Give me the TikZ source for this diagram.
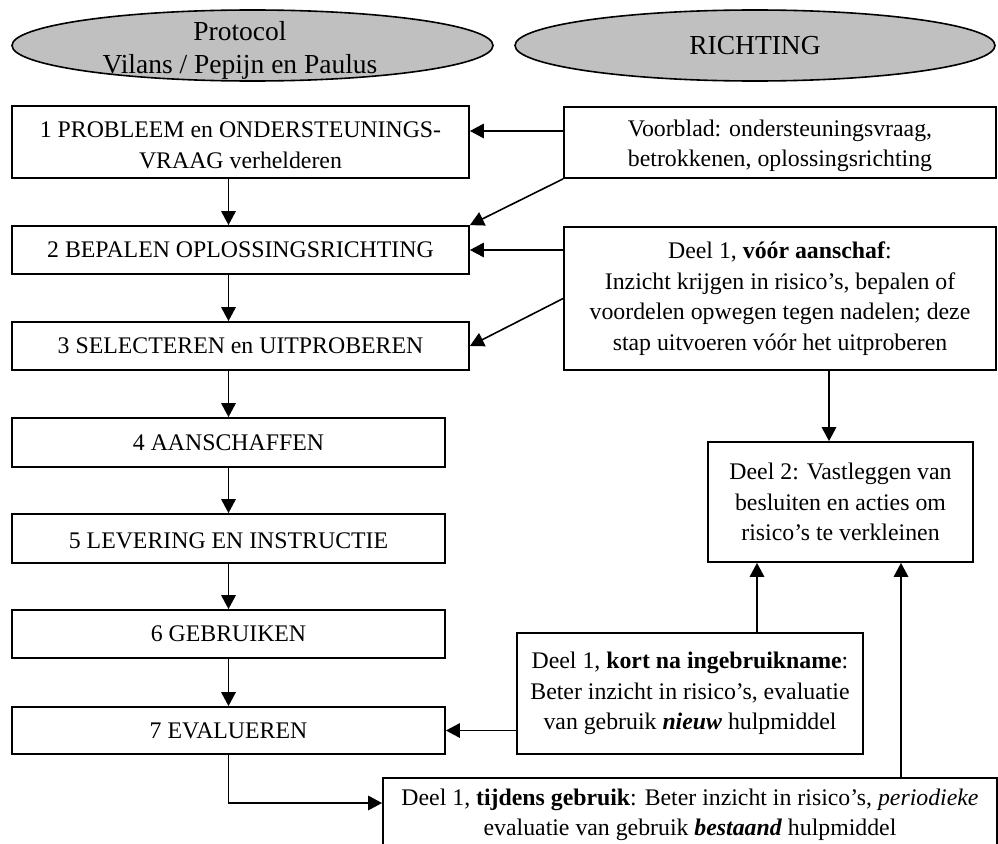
\documentclass[tikz,border=0pt]{standalone}
\usepackage{fontspec}
\setmainfont{Liberation Serif}
\usetikzlibrary{shapes.geometric,arrows.meta,calc}
\definecolor{ellgray}{RGB}{192,192,192}
\newcommand{\lowtext}[2]{\raisebox{-#1}[\height][\depth]{\begin{tabular}{@{}c@{}}#2\end{tabular}}}
\tikzset{
  bodyfont/.style={font=\fontsize{23.8pt}{30.5pt}\selectfont},
  ellfont/.style={font=\fontsize{27.5pt}{33pt}\selectfont},
  ell/.style={ellipse, draw, line width=1.6pt, fill=ellgray, inner sep=0pt},
  stepbox/.style={rectangle, draw, line width=1.8pt, inner sep=0pt, align=center, bodyfont},
  arr/.style={line width=1.6pt, -{Triangle[length=14pt,width=14.5pt]}}
}
\begin{document}
\begin{tikzpicture}[x=1pt,y=-1pt]
\useasboundingbox (0,0) rectangle (998,843);

% header ellipses
\node[ell, minimum width=481pt, minimum height=71pt] (e1) at (252.5,45.5) {};
\node[ellfont, align=center, inner sep=0pt] (e1t) at (240,50) {Protocol\\Vilans / Pepijn en Paulus};
\node[ell, minimum width=480pt, minimum height=71pt, ellfont] (e2) at (755,45.5) {\lowtext{2pt}{RICHTING}};

% left column
\node[stepbox, minimum width=457pt, minimum height=72pt] (b1) at (240.5,142) {\lowtext{5pt}{1 PROBLEEM en ONDERSTEUNINGS-\\VRAAG verhelderen}};
\node[stepbox, minimum width=457pt, minimum height=48pt] (b2) at (240.5,250) {2 BEPALEN OPLOSSINGSRICHTING};
\node[stepbox, minimum width=457pt, minimum height=48pt] (b3) at (240.5,346) {3 SELECTEREN en UITPROBEREN};
\node[stepbox, minimum width=433pt, minimum height=49pt] (b4) at (228.5,442.5) {4 AANSCHAFFEN};
\node[stepbox, minimum width=433pt, minimum height=49pt] (b5) at (228.5,538.5) {\lowtext{4pt}{5 LEVERING EN INSTRUCTIE}};
\node[stepbox, minimum width=433pt, minimum height=48pt] (b6) at (228.5,634) {6 GEBRUIKEN};
\node[stepbox, minimum width=433pt, minimum height=47pt] (b7) at (228.5,730.5) {7 EVALUEREN};

% right column
\node[stepbox, minimum width=432pt, minimum height=71pt] (voor) at (780,142.5) {\lowtext{3pt}{Voorblad: ondersteuningsvraag,\\betrokkenen, oplossingsrichting}};
\node[stepbox, minimum width=432pt, minimum height=143pt] (d1) at (780,298.5) {Deel 1, \textbf{vóór aanschaf}:\\Inzicht krijgen in risico’s, bepalen of\\voordelen opwegen tegen nadelen; deze\\stap uitvoeren vóór het uitproberen};
\node[stepbox, minimum width=265pt, minimum height=120pt] (d2) at (840.5,502) {Deel 2: Vastleggen van\\besluiten en acties om\\risico’s te verkleinen};
\node[stepbox, minimum width=346pt, minimum height=121pt] (kort) at (690,693.5) {Deel 1, \textbf{kort na ingebruikname}:\\Beter inzicht in risico’s, evaluatie\\van gebruik \textbf{\textit{nieuw}} hulpmiddel};
\node[stepbox, minimum width=614pt, minimum height=74pt] (tijd) at (690,815) {Deel 1, \textbf{tijdens gebruik}: Beter inzicht in risico’s, \textit{periodieke}\\evaluatie van gebruik \textbf{\textit{bestaand}} hulpmiddel};

% helper coordinates
\coordinate (a1y) at (0,131);
\coordinate (dn) at (829,0);
\coordinate (up1) at (757,0);
\coordinate (up2) at (901,0);
\coordinate (elb) at (0,803);

% left column arrows
\draw[arr] (b1.south -| b4.south) -- (b2.north -| b4.north);
\draw[arr] (b2.south -| b4.south) -- (b3.north -| b4.north);
\draw[arr] (b3.south -| b4.south) -- (b4.north);
\draw[arr] (b4.south) -- (b5.north);
\draw[arr] (b5.south) -- (b6.north);
\draw[arr] (b6.south) -- (b7.north);
\draw[arr] (b7.south) |- (elb -| tijd.west);

% right to left arrows
\draw[arr] (voor.west |- a1y) -- (b1.east |- a1y);
\draw[arr] (voor.south west) -- (b2.north east);
\draw[arr] (d1.west |- b2.east) -- (b2.east);
\draw[arr] (d1.west) -- (b3.east);
\draw[arr] (b7.east -| kort.west) -- (b7.east);

% to Deel 2
\draw[arr] (d1.south -| dn) -- (d2.north -| dn);
\draw[arr] (kort.north -| up1) -- (d2.south -| up1);
\draw[arr] (tijd.north -| up2) -- (d2.south -| up2);
\end{tikzpicture}
\end{document}
